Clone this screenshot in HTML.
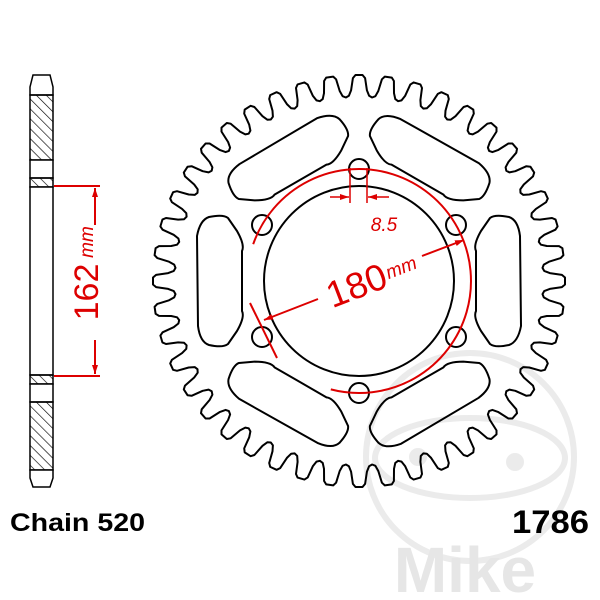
<!DOCTYPE html>
<html><head><style>
html,body{margin:0;padding:0;background:#fff}
svg{display:block}
</style></head><body>
<svg id="s" width="600" height="600" viewBox="0 0 600 600" xmlns="http://www.w3.org/2000/svg">
<defs>
<pattern id="h" width="7" height="7" patternUnits="userSpaceOnUse" patternTransform="rotate(-45)">
<line x1="0" y1="0" x2="0" y2="7" stroke="#000" stroke-width="1.3"/>
</pattern>
<marker id="ar" markerWidth="10" markerHeight="8" refX="9" refY="4" orient="auto" markerUnits="userSpaceOnUse">
<path d="M0,1 L9,4 L0,7 z" fill="#d00"/>
</marker>
</defs>
<g fill="none" stroke="#ebebeb" stroke-width="6">
<circle cx="470" cy="457" r="104"/>
<ellipse cx="470" cy="458" rx="95" ry="40"/>
</g>
<circle cx="418" cy="457" r="9" fill="#ebebeb"/>
<circle cx="515" cy="462" r="9" fill="#ebebeb"/>
<text x="465" y="592" font-family="Liberation Sans, sans-serif" font-weight="bold" font-size="64" fill="#e6e6e6" text-anchor="middle">Mike</text>

<g id="spr" fill="none" stroke="#000" stroke-width="2" stroke-linejoin="round"></g>

<path id="rc" fill="none" stroke="#d00" stroke-width="2"/>
<line x1="318" y1="299" x2="264" y2="320" stroke="#d00" stroke-width="2" marker-end="url(#ar)"/>
<line x1="422" y1="256" x2="464" y2="240" stroke="#d00" stroke-width="2" marker-end="url(#ar)"/>
<line x1="250" y1="303" x2="277" y2="358" stroke="#d00" stroke-width="2"/>
<g transform="translate(362,283) rotate(-21)">
<text x="-6" y="13" font-family="Liberation Sans, sans-serif" font-size="37" fill="#d00" text-anchor="middle">180</text>
<text x="42" y="6" font-family="Liberation Sans, sans-serif" font-style="italic" font-size="19" fill="#d00" text-anchor="middle">mm</text>
</g>
<line x1="350" y1="168" x2="350" y2="203" stroke="#d00" stroke-width="1.5"/>
<line x1="367" y1="168" x2="367" y2="203" stroke="#d00" stroke-width="1.5"/>
<line x1="330" y1="197" x2="349" y2="197" stroke="#d00" stroke-width="1.5" marker-end="url(#ar)"/>
<line x1="389" y1="197" x2="368" y2="197" stroke="#d00" stroke-width="1.5" marker-end="url(#ar)"/>
<text x="384" y="231" font-family="Liberation Sans, sans-serif" font-style="italic" font-size="19" fill="#d00" text-anchor="middle">8.5</text>

<g stroke="#000" stroke-width="1.5">
<path d="M33,75 L50,75 L53,87 L53,95 L30,95 L30,87 Z" fill="#fff"/>
<rect x="30" y="95" width="23" height="65" fill="url(#h)"/>
<rect x="30" y="160" width="23" height="18" fill="#fff"/>
<rect x="30" y="178" width="23" height="9" fill="url(#h)"/>
<rect x="30" y="187" width="23" height="188" fill="#fff"/>
<rect x="30" y="375" width="23" height="9" fill="url(#h)"/>
<rect x="30" y="384" width="23" height="18" fill="#fff"/>
<rect x="30" y="402" width="23" height="68" fill="url(#h)"/>
<path d="M30,470 L53,470 L53,478 L50,487 L33,487 L30,478 Z" fill="#fff"/>
</g>
<g stroke="#d00" stroke-width="2">
<line x1="54" y1="186" x2="100" y2="186"/>
<line x1="54" y1="376" x2="100" y2="376"/>
<line x1="95" y1="225" x2="95" y2="188" marker-end="url(#ar)"/>
<line x1="95" y1="340" x2="95" y2="374" marker-end="url(#ar)"/>
</g>
<g transform="translate(98,282) rotate(-90)">
<text x="-10" y="0" font-family="Liberation Sans, sans-serif" font-size="34" fill="#d00" text-anchor="middle">162</text>
<text x="40" y="-5" font-family="Liberation Sans, sans-serif" font-style="italic" font-size="19" fill="#d00" text-anchor="middle">mm</text>
</g>

<text x="10" y="531" font-family="Liberation Sans, sans-serif" font-weight="bold" font-size="25" fill="#000" textLength="135" lengthAdjust="spacingAndGlyphs">Chain 520</text>
<text x="512" y="533" font-family="Liberation Sans, sans-serif" font-weight="bold" font-size="32" fill="#000" textLength="77" lengthAdjust="spacingAndGlyphs">1786</text>
</svg>
<script>
(function(){
var NS="http://www.w3.org/2000/svg",g=document.getElementById("spr");
var cx=359,cy=281,N=44,p=2*Math.PI/N,rr=184,rt=206;
function P(r,a){return (cx+r*Math.cos(a)).toFixed(1)+","+(cy+r*Math.sin(a)).toFixed(1);}
var d="";
for(var i=0;i<N;i++){
 var a=i*p-Math.PI/2;
 var pts=[[rr,a-0.5*p],[rr+1.5,a-0.38*p],[rr+7,a-0.29*p],[rt-3,a-0.21*p],[rt,a-0.12*p],[rt,a+0.12*p],[rt-3,a+0.21*p],[rr+7,a+0.29*p],[rr+1.5,a+0.38*p]];
 pts.forEach(function(q,j){d+=(i==0&&j==0?"M":"L")+P(q[0],q[1]);});
}
d+="Z";
function add(tag,attrs){var e=document.createElementNS(NS,tag);for(var k in attrs)e.setAttribute(k,attrs[k]);g.appendChild(e);return e;}
add("path",{d:d});
add("circle",{cx:cx,cy:cy,r:95});
for(var k=0;k<6;k++){
 var a=(k*60-90)*Math.PI/180;
 add("circle",{cx:(cx+112*Math.cos(a)).toFixed(1),cy:(cy+112*Math.sin(a)).toFixed(1),r:10});
 var b=k*60;
 add("path",{d:"M117,-30 Q114,-36 122,-50 L131,-63 Q136,-67 150,-64 Q159,-61 161,-45 L162,45 Q159,61 150,64 Q136,67 131,63 L122,50 Q114,36 117,30 Z",transform:"translate("+cx+","+cy+") rotate("+b+")"});
}
var a1=-160.8*Math.PI/180,a2=104.6*Math.PI/180,R=112;
document.getElementById("rc").setAttribute("d","M"+P(R,a1)+" A"+R+","+R+" 0 1 1 "+P(R,a2));
})();
</script>
</body></html>
